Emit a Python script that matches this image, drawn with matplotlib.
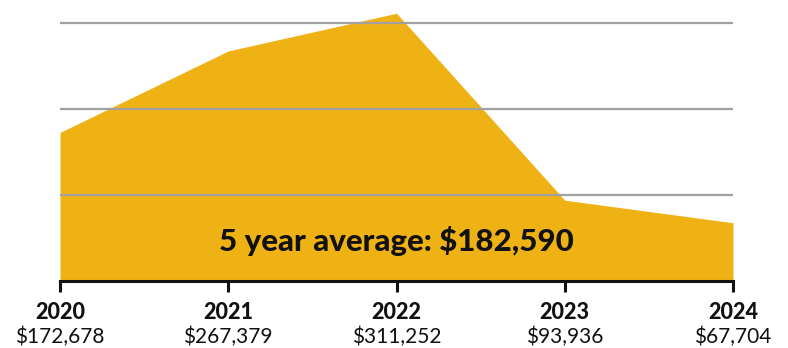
import matplotlib.pyplot as plt
import matplotlib.transforms as mtransforms

years = [2020, 2021, 2022, 2023, 2024]
amounts = [172678, 267379, 311252, 93936, 67704]
value_labels = ["$172,678", "$267,379", "$311,252", "$93,936", "$67,704"]
average_label = "5 year average: $182,590"

plt.rcParams['font.family'] = ['Lato', 'DejaVu Sans']

fig = plt.figure(figsize=(7.88, 3.48), dpi=100)
ax = fig.add_axes([60 / 788, 67 / 348, 673 / 788, 271 / 348])

ax.fill_between(years, amounts, 0, color='#EFB215', linewidth=0, zorder=1)
for g in [100000, 200000, 300000]:
    ax.axhline(g, color='#a0a0a0', linewidth=1.6, zorder=2)

ax.set_xlim(2020, 2024)
ax.set_ylim(0, 315000)

for s in ['top', 'right', 'left']:
    ax.spines[s].set_visible(False)
ax.spines['bottom'].set_linewidth(2.2)
ax.spines['bottom'].set_color('#111111')
ax.set_yticks([])
ax.set_xticks(years)
ax.set_xticklabels([])
ax.tick_params(axis='x', direction='out', length=8, width=2.2, color='#111111')

trans = mtransforms.blended_transform_factory(ax.transData, ax.transAxes)
for yr, lab in zip(years, value_labels):
    ax.text(yr, -0.115, str(yr), transform=trans, ha='center', va='center',
            fontsize=15.5, fontweight='black', color='#111111', clip_on=False)
    ax.text(yr, -0.205, lab, transform=trans, ha='center', va='center',
            fontsize=15, color='#111111', clip_on=False)

ax.text(2022, 46000, average_label, ha='center', va='center',
        fontsize=22.5, fontweight='black', color='#111111', zorder=3)

fig.savefig('out.png', dpi=100)
